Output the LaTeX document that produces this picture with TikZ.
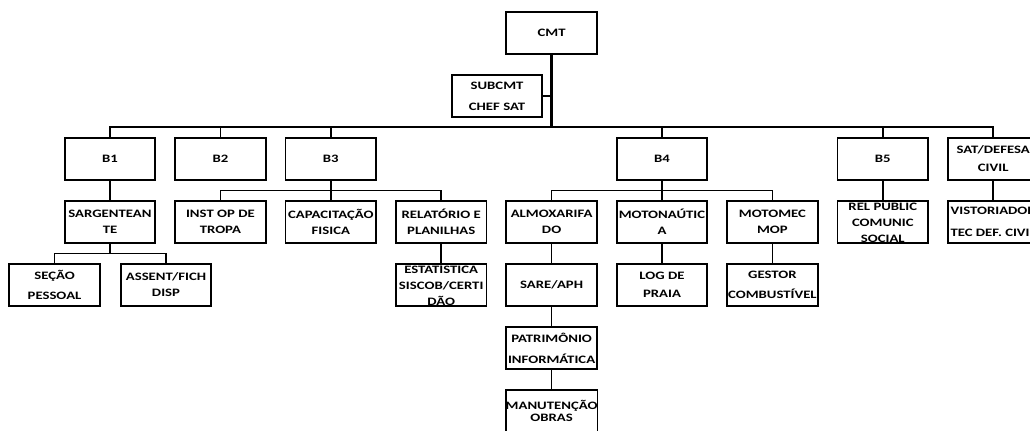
\documentclass[tikz,border=0pt]{standalone}
\usepackage{fontspec}
\newfontfamily\orgfont[FakeStretch=1.3]{Carlito}
\usetikzlibrary{positioning}

\begin{document}
\begin{tikzpicture}[node distance=15.25pt and 14.8pt,
                    org box/.style={rectangle,draw,line width=1.4pt,outer sep=0pt,
                      minimum width=68pt,minimum height=32pt,inner sep=0pt,align=center,
                      font={\orgfont\bfseries\fontsize{8.5pt}{12pt}\selectfont}},
                    link/.style={line width=1.2pt}]

  \clip (0,0) rectangle (772.5pt,-323.25pt);
  \fill[white] (0,0) rectangle (772.5pt,-323.25pt);

  % second row
  \node[org box] (sarg) at (82.5pt,-166.5pt) {SARGENTEAN\\TE};
  \node[org box] (inst) [right=of sarg] {INST OP DE\\TROPA};
  \node[org box] (capac) [right=of inst] {CAPACITAÇÃO\\FISICA};
  \node[org box] (relat) [right=of capac] {RELATÓRIO E\\PLANILHAS};
  \node[org box] (almox) [right=of relat] {ALMOXARIFA\\DO};
  \node[org box] (moton) [right=of almox] {MOTONAÚTIC\\A};
  \node[org box] (motom) [right=of moton] {MOTOMEC\\MOP};
  \node[org box] (relpub) [right=of motom] {REL PÚBLIC\\COMUNIC\\SOCIAL};
  \node[org box] (vist) [right=of relpub] {VISTORIADOR\\[4.5pt]TEC DEF. CIVIL};

  % sections
  \node[org box] (b1) [above=of sarg] {B1};
  \node[org box] (b2) [above=of inst] {B2};
  \node[org box] (b3) [above=of capac] {B3};
  \node[org box] (b4) [above=of moton] {B4};
  \node[org box] (b5) [above=of relpub] {B5};
  \node[org box] (sat) [above=of vist] {SAT/DEFESA\\[1.5pt]CIVIL};

  \node[org box] (cmt) at (almox |- 0,-24.75pt) {CMT};
  \node[org box] (sub) at (372.75pt,-72pt) {SUBCMT\\[4pt]CHEF SAT};

  % lower rows
  \node[org box] (secao) [below=of sarg, xshift=-41.6pt] {SEÇÃO\\[3pt]PESSOAL};
  \node[org box] (assent) [below=of sarg, xshift=42pt] {ASSENT/FICH\\DISP};
  \node[org box] (estat) [below=of relat] {ESTATÍSTICA\\SISCOB/CERTI\\DÃO};
  \node[org box] (sare) [below=of almox] {SARE/APH};
  \node[org box] (log) [below=of moton] {LOG DE\\[1.5pt]PRAIA};
  \node[org box] (gestor) [below=of motom] {GESTOR\\[3pt]COMBUSTÍVEL};
  \node[org box] (patrim) [below=of sare] {PATRIMÔNIO\\[3.75pt]INFORMÁTICA};
  \node[org box] (manut) [below=of patrim] {MANUTENÇÃO\\[-3pt]OBRAS};

  \coordinate (bus) at (0,-95.25pt);
  \draw[line width=2.2pt] (cmt.south) -- (cmt |- bus);
  \draw[link] (sub.east) -- (sub.east -| cmt);
  \draw[link] (b1.north) |- (bus -| sat.north) -- (sat.north);
  \foreach \n in {b2,b3,b4,b5}
    \draw[link] (\n.north) -- (\n.north |- bus);

  \draw[link] (inst.north) -- ++(0,7.6pt) -| (relat.north);
  \draw[link] (almox.north) -- ++(0,7.6pt) -| (motom.north);
  \draw[link] (secao.north) -- ++(0,7.6pt) -| (assent.north);
  \draw[link] (sarg.south) -- ++(0,-7.6pt);

  \path[link]
    (b1) edge (sarg)
    (b3) edge (capac)
    (b4) edge (moton)
    (b5) edge (relpub)
    (sat) edge (vist)
    (relat) edge (estat)
    (almox) edge (sare)
    (moton) edge (log)
    (motom) edge (gestor)
    (sare) edge (patrim)
    (patrim) edge (manut);
\end{tikzpicture}
\end{document}
